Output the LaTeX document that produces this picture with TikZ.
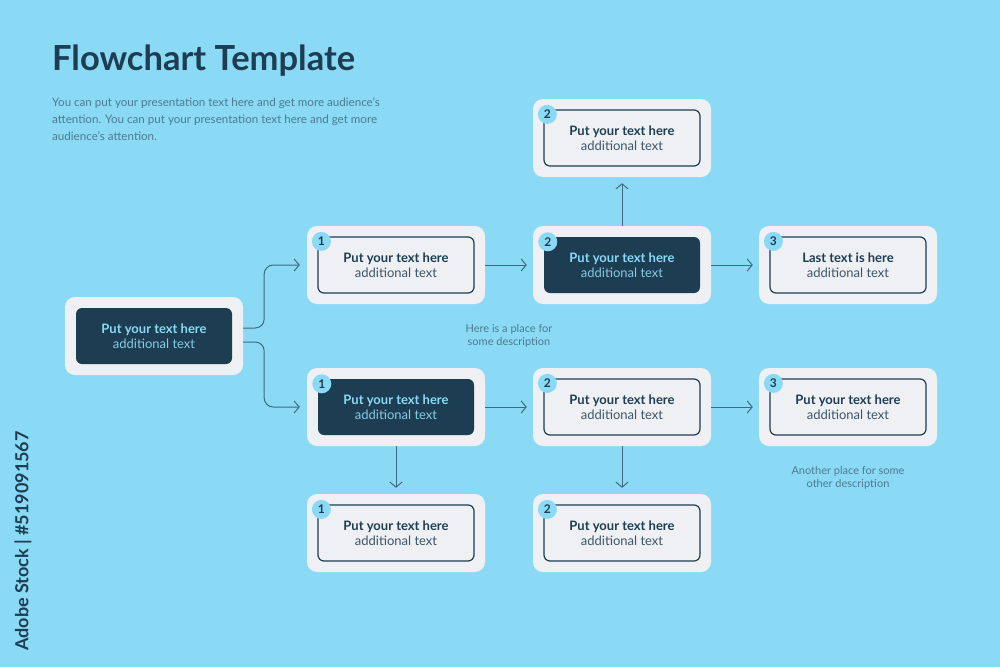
\documentclass[tikz,border=0pt]{standalone}
\usepackage{fontspec}
\setmainfont{Lato}
\usetikzlibrary{arrows.meta}

\definecolor{sky}{HTML}{8BDAF5}
\definecolor{card}{HTML}{EFF0F3}
\definecolor{navy}{HTML}{1D3D52}
\definecolor{linecol}{HTML}{3F6B82}
\definecolor{muted}{HTML}{4C7A92}
\definecolor{subtxt}{HTML}{3A5668}
\definecolor{lightsub}{HTML}{86CBE3}

\tikzset{
  outer/.style={fill=card,rounded corners=10pt,minimum width=178pt,minimum height=78pt,inner sep=0pt},
  plainbox/.style={draw=navy,line width=1.2pt,fill=card,rounded corners=6pt,minimum width=156pt,minimum height=56pt,
    align=center,inner sep=0pt,font=\fontsize{13}{15}\selectfont},
  darkbox/.style={fill=navy,rounded corners=6pt,minimum width=156pt,minimum height=56pt,
    align=center,inner sep=0pt,font=\fontsize{13}{15}\selectfont},
  badge/.style={circle,fill=sky,minimum size=19pt,inner sep=0pt,font=\fontsize{12}{12}\selectfont\bfseries,text=navy},
  conn/.style={draw=linecol,line width=1pt,-{Straight Barb[length=5pt,width=12pt]}},
  desc/.style={align=center,text=muted,font=\fontsize{11}{13}\selectfont}
}

\newcommand{\hd}[1]{{\bfseries #1}}

\begin{document}
\begin{tikzpicture}[x=1pt,y=-1pt]

   \fill[sky] (0,0) rectangle (1000,667);
   \useasboundingbox (0,0) rectangle (1000,667);

   % title and intro
   \node[anchor=base west,text=navy,font=\fontsize{34.5}{34}\selectfont\bfseries,inner sep=0pt] (title) at (52,70) {Flowchart Template};
   \node[anchor=base west,text=muted,align=left,inner sep=0pt,font=\fontsize{11.6}{17}\selectfont] (intro) at (52,140)
     {You can put your presentation text here and get more audience's\\attention. You can put your presentation text here and get more\\audience's attention.};

   % start card
   \node[outer] (o0) at (154,336) {};
   \node[darkbox] (b0) at (o0) {\color{sky}\hd{Put your text here}\\\color{lightsub}additional text};

   % outer cards
   \node[outer] (o11) at (396,265) {};
   \node[outer] (o21) at (622,265) {};
   \node[outer] (o31) at (848,265) {};
   \node[outer] (o20) at (622,138) {};
   \node[outer] (o12) at (396,407) {};
   \node[outer] (o22) at (622,407) {};
   \node[outer] (o32) at (848,407) {};
   \node[outer] (o13) at (396,533) {};
   \node[outer] (o23) at (622,533) {};

   % inner boxes
   \node[plainbox] (b11) at (o11) {\color{navy}\hd{Put your text here}\\\color{subtxt}additional text};
   \node[darkbox] (b21) at (o21) {\color{sky}\hd{Put your text here}\\\color{lightsub}additional text};
   \node[plainbox] (b31) at (o31) {\color{navy}\hd{Last text is here}\\\color{subtxt}additional text};
   \node[plainbox] (b20) at (o20) {\color{navy}\hd{Put your text here}\\\color{subtxt}additional text};
   \node[darkbox] (b12) at (o12) {\color{sky}\hd{Put your text here}\\\color{lightsub}additional text};
   \node[plainbox] (b22) at (o22) {\color{navy}\hd{Put your text here}\\\color{subtxt}additional text};
   \node[plainbox] (b32) at (o32) {\color{navy}\hd{Put your text here}\\\color{subtxt}additional text};
   \node[plainbox] (b13) at (o13) {\color{navy}\hd{Put your text here}\\\color{subtxt}additional text};
   \node[plainbox] (b23) at (o23) {\color{navy}\hd{Put your text here}\\\color{subtxt}additional text};

   % number badges
   \foreach \b/\n in {b11/1,b12/1,b13/1,b21/2,b20/2,b22/2,b23/2,b31/3,b32/3}
      \node[badge] (n\b) at ([xshift=4pt,yshift=-5pt]\b.north west) {\n};

   % connectors
   \draw[conn,rounded corners=9pt,shorten >=7pt] ([yshift=8pt]o0.east) -- ++(21,0) |- (o11.west);
   \draw[conn,rounded corners=9pt,shorten >=7pt] ([yshift=-6pt]o0.east) -- ++(21,0) |- (o12.west);
   \draw[conn,shorten >=6pt] (o11) -- (o21) ;
   \draw[conn,shorten >=6pt] (o21.east) -- (o31.west);
   \draw[conn,shorten >=6pt] (o21.north) -- (o20.south);
   \draw[conn,shorten >=6pt] (o12.east) -- (o22.west);
   \draw[conn,shorten >=6pt] (o22.east) -- (o32.west);
   \draw[conn,shorten >=6pt] (o12.south) -- (o13.north);
   \draw[conn,shorten >=6pt] (o22.south) -- (o23.north);

   % descriptions
   \node[desc] (d1) at (509,336) {Here is a place for\\some description};
   \node[desc] (d2) at (848,478) {Another place for some\\other description};

   \node[rotate=90,text=navy,font=\fontsize{18}{18}\selectfont\bfseries] (stock) at (23,541) {Adobe Stock | \#519091567};

\end{tikzpicture}
\end{document}
